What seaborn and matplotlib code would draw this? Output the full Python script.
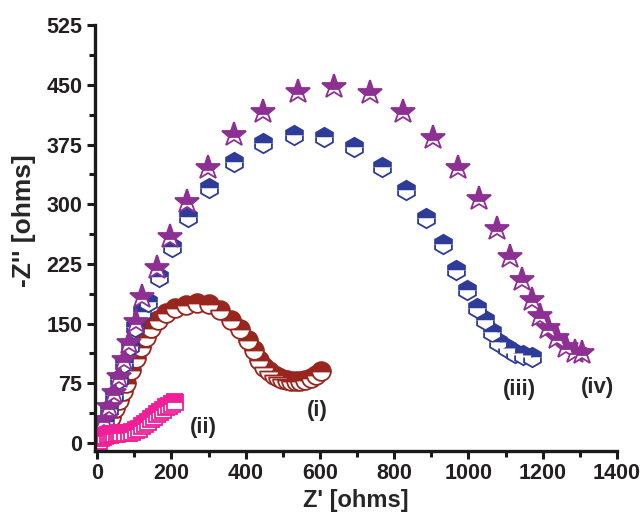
import numpy as np
import pandas as pd
import seaborn as sns
import matplotlib.pyplot as plt
from matplotlib.ticker import MultipleLocator

# (i) - circles
zr_i = [3, 11, 24, 38, 49, 59, 69, 78, 91, 105, 118, 132, 145, 164, 185, 210, 240,
        270, 300, 330, 360, 385, 405, 422, 437, 450, 462, 475, 487, 499, 511, 523,
        535, 547, 560, 575, 590, 603]
zi_i = [2, 8, 20, 33, 44, 54, 65, 75, 92, 107, 121, 133, 144, 155, 163, 170, 174,
        176, 175, 167, 155, 143, 130, 117, 104, 96, 90, 86, 83, 81, 79, 78,
        78, 78, 79, 82, 86, 91]

# (ii) - squares
zr_ii = [5, 10, 16, 22, 28, 34, 40, 46, 52, 58, 65, 75, 85, 95, 105, 113, 121, 129,
         137, 145, 153, 161, 169, 177, 185, 193, 201, 209]
zi_ii = [3, 6, 8, 9, 10, 10, 11, 11, 11, 12, 12, 12, 13, 14, 16, 18, 21, 24,
         27, 30, 33, 36, 39, 42, 45, 47, 49, 51]

# (iii) - hexagons
zr_iii = [3, 10, 20, 32, 45, 58, 72, 87, 103, 120, 137, 166, 201, 244, 301, 368, 446,
          529, 612, 693, 768, 832, 886, 932, 966, 996, 1023, 1044, 1063, 1079, 1103,
          1125, 1146, 1170]
zi_iii = [3, 12, 27, 43, 60, 80, 100, 122, 146, 165, 177, 209, 246, 284, 320, 353, 377,
          387, 384, 372, 347, 318, 283, 250, 217, 192, 170, 155, 139, 127, 119,
          113, 110, 108]

# (iv) - stars
zr_iv = [2, 8, 19, 32, 46, 59, 72, 86, 105, 120, 161, 196, 242, 298, 368, 446, 542,
         639, 735, 824, 905, 972, 1028, 1077, 1111, 1144, 1170, 1192, 1213, 1238,
         1264, 1286, 1307]
zi_iv = [4, 13, 29, 45, 63, 83, 104, 126, 152, 183, 220, 259, 303, 345, 387, 416, 441,
         447, 440, 416, 383, 345, 307, 269, 234, 205, 180, 159, 144, 132,
         121, 114, 113]

series = [
    ("(i)", zr_i, zi_i, "o", "#98261f", 13.5),
    ("(iii)", zr_iii, zi_iii, "h", "#2e3b98", 14),
    ("(iv)", zr_iv, zi_iv, "*", "#8d2f93", 18.5),
    ("(ii)", zr_ii, zi_ii, "s", "#ee1f98", 11),
]

label_pos = {"(i)": (593, 41), "(ii)": (285, 19), "(iii)": (1138, 67), "(iv)": (1348, 70)}

sns.set_style("ticks")
plt.rcParams["font.family"] = ["Liberation Sans", "DejaVu Sans"]
plt.rcParams["font.weight"] = "bold"

fig = plt.figure(figsize=(6.44, 5.23), dpi=100)
ax = fig.add_axes([0.1475, 0.1377, 0.8105, 0.8143])

for name, xs, ys, mk, col, ms in series:
    df = pd.DataFrame({"Zr": xs, "Zi": ys})
    sns.lineplot(data=df, x="Zr", y="Zi", sort=False, estimator=None, ax=ax,
                 linestyle="", marker=mk, markersize=ms, color=col,
                 markeredgecolor=col, markeredgewidth=1.3, fillstyle="top",
                 markerfacecoloralt="white")

for name, (tx, ty) in label_pos.items():
    ax.text(tx, ty, name, ha="center", va="center", fontsize=16,
            fontweight="bold", color="#262626")

ax.set_xlim(-6, 1400)
ax.set_ylim(-10, 525)
ax.xaxis.set_major_locator(MultipleLocator(200))
ax.xaxis.set_minor_locator(MultipleLocator(100))
ax.yaxis.set_major_locator(MultipleLocator(75))
ax.yaxis.set_minor_locator(MultipleLocator(37.5))

ax.set_xlabel("Z' [ohms]", fontsize=17, fontweight="bold", labelpad=3)
ax.set_ylabel("-Z'' [ohms]", fontsize=19, fontweight="bold")
ax.yaxis.set_label_coords(-0.113, 0.54)

sns.despine(ax=ax)
for s in ["left", "bottom"]:
    ax.spines[s].set_linewidth(2.4)
    ax.spines[s].set_color("#1a1a1a")
ax.tick_params(which="major", length=6, width=2.2, labelsize=15.5, color="#1a1a1a",
               labelcolor="#231f20", pad=3)
ax.tick_params(which="minor", length=4, width=2.2, color="#1a1a1a")
for lab in ax.get_xticklabels() + ax.get_yticklabels():
    lab.set_fontweight("bold")

fig.savefig("out.png", dpi=100)
